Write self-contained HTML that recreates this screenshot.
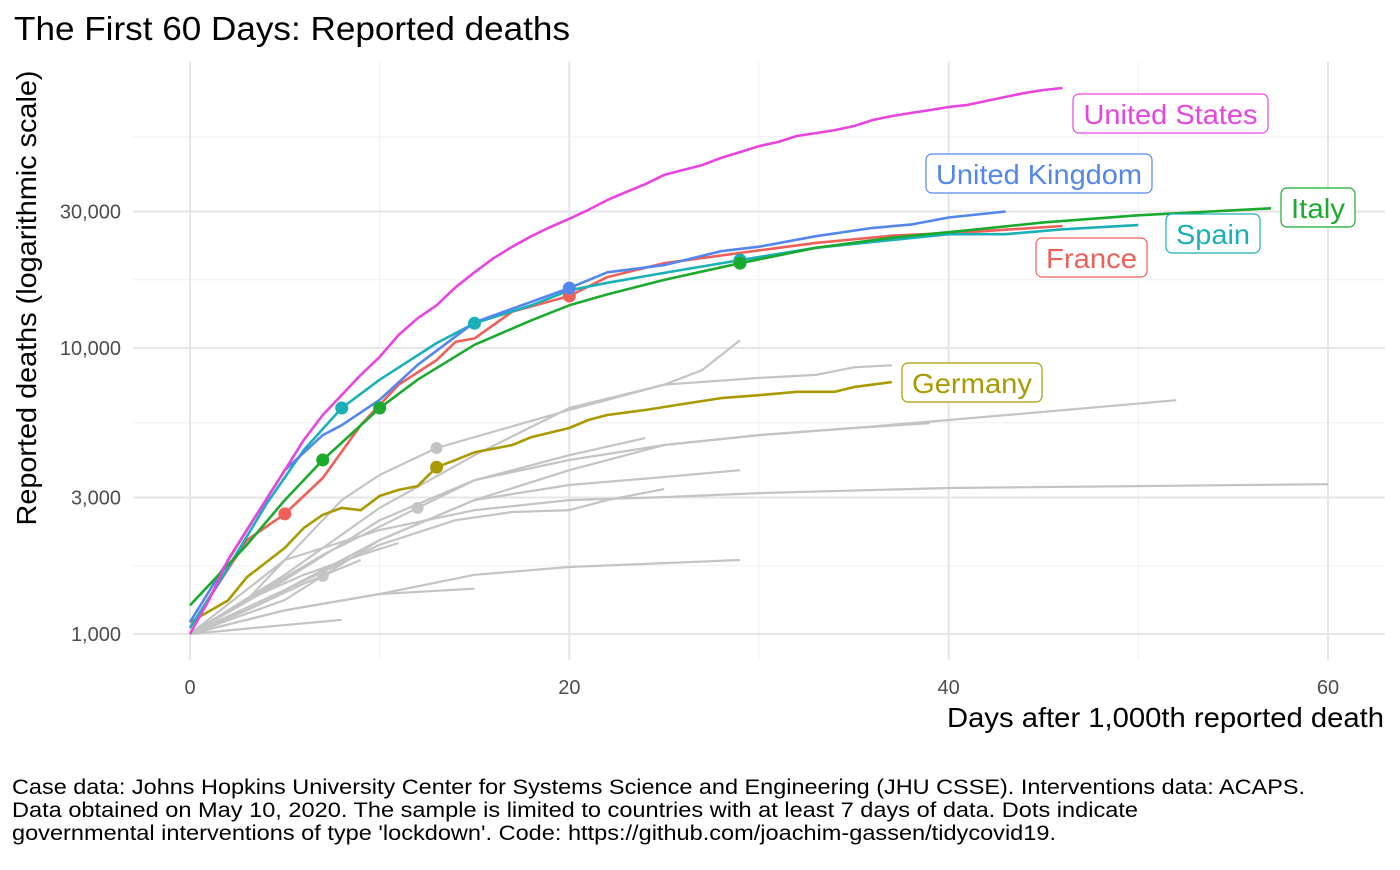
<!DOCTYPE html>
<html><head><meta charset="utf-8"><style>
body{margin:0;background:#fff;font-family:"Liberation Sans",Arial,sans-serif;}
svg text{font-family:"Liberation Sans",Arial,sans-serif;}
</style></head><body>
<svg id="chart" width="1400" height="865" xmlns="http://www.w3.org/2000/svg">
<rect width="1400" height="865" fill="#fff"/>
<text x="14" y="40" font-size="33" textLength="556" lengthAdjust="spacingAndGlyphs" fill="#000">The First 60 Days: Reported deaths</text>
<g id="grid"></g>
<g id="gray"></g>
<g id="main"></g>
<g id="labels"></g>
<text transform="translate(36,298) rotate(-90)" text-anchor="middle" font-size="28" textLength="455" lengthAdjust="spacingAndGlyphs">Reported deaths (logarithmic scale)</text>
<text x="1384" y="727" text-anchor="end" font-size="28" textLength="437" lengthAdjust="spacingAndGlyphs">Days after 1,000th reported death</text>
<g font-size="21" fill="#000">
<text x="12" y="794" textLength="1293" lengthAdjust="spacingAndGlyphs">Case data: Johns Hopkins University Center for Systems Science and Engineering (JHU CSSE). Interventions data: ACAPS.</text>
<text x="12" y="817" textLength="1126" lengthAdjust="spacingAndGlyphs">Data obtained on May 10, 2020. The sample is limited to countries with at least 7 days of data. Dots indicate</text>
<text x="12" y="840" textLength="1044" lengthAdjust="spacingAndGlyphs">governmental interventions of type 'lockdown'. Code: https://github.com/joachim-gassen/tidycovid19.</text>
</g>
</svg>
<script>
const xTicks=[0,20,40,60];
const xMinor=[10,30,50];
const yTicks=[1000,3000,10000,30000];
const yTickLabels=["1,000","3,000","10,000","30,000"];
const yMinor=[1732,5477,17320,54770];
const usDays=[0,1,2,3,4,5,6,7,8,9,10,11,12,13,14,15,16,17,18,19,20,21,22,23,24,25,26,27,28,29,30,31,32,33,34,35,36,37,38,39,40,41,42,43,44,45,46];
const usVals=[1000,1315,1815,2310,2940,3740,4770,5830,6850,8050,9310,11100,12700,14100,16300,18400,20600,22600,24600,26500,28300,30400,32900,35100,37400,40300,41900,43600,46200,48400,50800,52500,55100,56400,57800,59700,62700,64700,66300,67900,69600,70800,73100,75500,77900,79800,81100];
const ukDays=[0,3,5,7,8,10,12,15,20,22,25,28,30,33,36,38,40,43];
const ukVals=[1100,2310,3740,4960,5370,6590,8730,12300,16200,18400,19500,21800,22600,24600,26300,27000,28600,30000];
const itDays=[0,3,5,7,10,12,15,18,20,22,25,29,33,37,41,45,50,57];
const itVals=[1260,2050,2940,4060,6170,7750,10260,12500,14100,15400,17300,19800,22400,24300,25800,27500,29100,30800];
const esDays=[0,2,4,6,8,10,13,15,18,20,22,25,29,33,36,40,43,46,50];
const esVals=[1050,1700,2830,4400,6170,7750,10400,12200,14100,15900,16900,18300,20300,22400,23500,25000,25000,26000,26900];
const frDays=[0,3,5,7,9,11,13,14,15,17,20,22,25,29,33,37,41,46];
const frVals=[1050,2130,2630,3510,5370,7440,9070,10500,10800,13400,15200,17700,19800,21500,23300,24700,25400,26700];
const deDays=[0,2,3,5,6,7,8,9,10,11,12,13,14,15,17,18,20,21,22,24,26,28,30,32,34,35,37];
const deVals=[1100,1310,1580,2000,2350,2610,2760,2710,3040,3190,3290,3830,4060,4320,4580,4880,5250,5600,5830,6070,6370,6680,6840,7030,7030,7300,7600];
const usDots=[];
const ukDots=[20];
const itDots=[7,10,29];
const esDots=[8,15,29];
const frDots=[5,20];
const deDots=[13];
const grayDays=[[0,5,8,10,13,20,25,27,29],[0,5,10,15,20,25,30,33,35,37],[0,5,10,15,20,25,30,35,40,45,52],[0,7,12,15,20,25,30,35,39],[0,5,10,15,20,24],[0,5,10,15,20,25,29],[0,3,5,10,15,20,25,30,40,50,60],[0,5,10,14,17,20,22,25],[0,3,6,9,11],[0,3,6,9],[0,5,10,15,20,25,29],[0,5,10,15],[0,4,8]];
const grayVals=[[1000,1815,2940,3600,4470,6070,7440,8370,10650],[1000,1610,2760,4220,6170,7440,7860,8050,8560,8700],[1000,1425,2130,2940,3740,4580,4960,5250,5600,5980,6570],[1000,1890,2760,3450,4060,4580,4960,5250,5460],[1000,1545,2500,3450,4220,4840],[1000,1315,2130,2940,3320,3540,3740],[1000,1315,1815,2310,2710,2940,3010,3110,3240,3290,3340],[1000,1425,2050,2500,2670,2710,2940,3210],[1000,1315,1610,1890,2080],[1000,1210,1500,1815],[1000,1210,1380,1610,1715,1770,1815],[1000,1210,1380,1440],[1000,1060,1120]];
const grayDotSeries=[3,0,9];
const grayDotDays=[12,13,7];

const NS="http://www.w3.org/2000/svg";
const X=d=>190+d*(1328-190)/60;
const Y=v=>634-(Math.log10(v)-3)*286;
const PL=133,PR=1385,PT=62,PB=660;
function mk(tag,attrs,parent){const e=document.createElementNS(NS,tag);for(const k in attrs)e.setAttribute(k,attrs[k]);parent.appendChild(e);return e;}
const grid=document.getElementById('grid');
xMinor.forEach(d=>{const l=mk('line',{x1:X(d),x2:X(d),y1:PT,y2:PB,stroke:'#f0f0f0','stroke-width':1},grid);

});
yMinor.forEach(v=>{const l=mk('line',{x1:PL,x2:PR,y1:Y(v),y2:Y(v),stroke:'#f0f0f0','stroke-width':1},grid);

});
xTicks.forEach(d=>{const l=mk('line',{x1:X(d),x2:X(d),y1:PT,y2:PB,stroke:'#e6e6e6','stroke-width':2},grid);


const t=mk('text',{x:X(d),y:694,'text-anchor':'middle','font-size':20,fill:'#4d4d4d'},grid);t.textContent=d;

});
yTicks.forEach((v,i)=>{const l=mk('line',{x1:PL,x2:PR,y1:Y(v),y2:Y(v),stroke:'#e6e6e6','stroke-width':2},grid);


const t=mk('text',{x:121,y:Y(v)+7,'text-anchor':'end','font-size':20,fill:'#4d4d4d'},grid);t.textContent=yTickLabels[i];

});
function valAt(days,vals,d){const i=days.indexOf(d);if(i>=0)return vals[i];for(let k=0;k<days.length-1;k++){if(d>days[k]&&d<days[k+1]){const f=(d-days[k])/(days[k+1]-days[k]);return Math.pow(10,Math.log10(vals[k])*(1-f)+Math.log10(vals[k+1])*f);}}return vals[vals.length-1];}
function pts(days,vals){return days.map((d,i)=>X(d).toFixed(1)+','+Y(vals[i]).toFixed(1)).join(' ');}
const gray=document.getElementById('gray');
grayDays.forEach((days,i)=>{const p=mk('polyline',{points:pts(days,grayVals[i]),fill:'none',stroke:'#c4c4c4','stroke-width':2.2,'stroke-linejoin':'round'},gray);

});
grayDotSeries.forEach((s,i)=>{const d=grayDotDays[i];const c=mk('circle',{cx:X(d),cy:Y(valAt(grayDays[s],grayVals[s],d)),r:6,fill:'#c4c4c4'},gray);

});
const main=document.getElementById('main');
const series=[
['germany',deDays,deVals,deDots,'#A89A00'],
['france',frDays,frVals,frDots,'#F0605A'],
['spain',esDays,esVals,esDots,'#19B0B8'],
['united-kingdom',ukDays,ukVals,ukDots,'#5486F0'],
['italy',itDays,itVals,itDots,'#1BAA2E'],
['united-states',usDays,usVals,usDots,'#E844E0']];
series.forEach(s=>{const p=mk('polyline',{points:pts(s[1],s[2]),fill:'none',stroke:s[4],'stroke-width':2.6,'stroke-linejoin':'round'},main);

});
series.forEach(s=>{s[3].forEach(d=>{const c=mk('circle',{cx:X(d),cy:Y(valAt(s[1],s[2],d)),r:6.5,fill:s[4]},main);

});});
const labels=document.getElementById('labels');
const labs=[['United States',1073,94,195,'#E844E0',174],['United Kingdom',926,154,226,'#5486F0',206],['Italy',1281,188,74,'#1BAA2E',54],['Spain',1166,214,94,'#19B0B8',74],['France',1036,238,111,'#F0605A',91],['Germany',902,363,140,'#A89A00',120]];
labs.forEach(l=>{const g=mk('g',{},labels);


mk('rect',{x:l[1],y:l[2],width:l[3],height:39,rx:6,fill:'#fff',stroke:l[4],'stroke-width':1.2},g);
const t=mk('text',{x:l[1]+l[3]/2,y:l[2]+30,'text-anchor':'middle','font-size':28,fill:l[4],textLength:l[5],lengthAdjust:'spacingAndGlyphs'},g);t.textContent=l[0];});
</script>
</body></html>
